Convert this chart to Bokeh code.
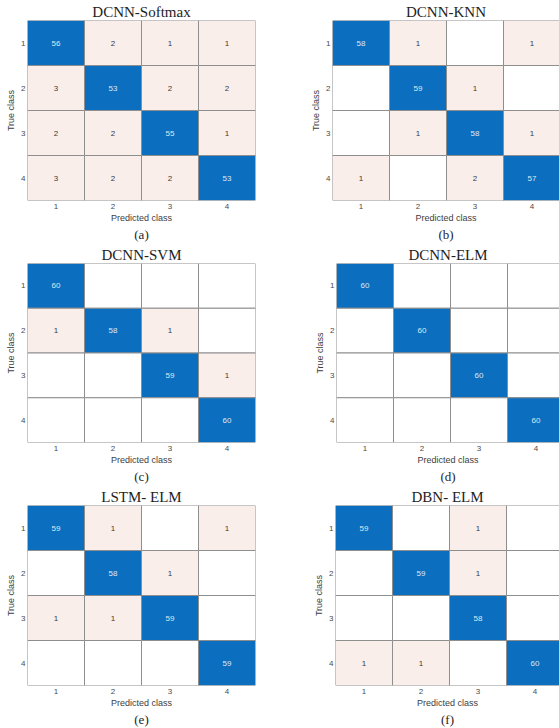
from bokeh.plotting import figure
from bokeh.layouts import column, row
from bokeh.models import ColumnDataSource, Range1d, FixedTicker, Title
from bokeh.core.properties import value
from bokeh.embed import file_html
from bokeh.resources import INLINE

# Class labels shared by every confusion matrix
classes = [1, 2, 3, 4]

titles = ["DCNN-Softmax", "DCNN-KNN", "DCNN-SVM", "DCNN-ELM", "LSTM- ELM", "DBN- ELM"]
captions = ["(a)", "(b)", "(c)", "(d)", "(e)", "(f)"]

# Confusion matrices: rows = true class, columns = predicted class
cm_softmax = [[56, 2, 1, 1], [3, 53, 2, 2], [2, 2, 55, 1], [3, 2, 2, 53]]
cm_knn = [[58, 1, 0, 1], [0, 59, 1, 0], [0, 1, 58, 1], [1, 0, 2, 57]]
cm_svm = [[60, 0, 0, 0], [1, 58, 1, 0], [0, 0, 59, 1], [0, 0, 0, 60]]
cm_elm = [[60, 0, 0, 0], [0, 60, 0, 0], [0, 0, 60, 0], [0, 0, 0, 60]]
cm_lstm = [[59, 1, 0, 1], [0, 58, 1, 0], [1, 1, 59, 0], [0, 0, 0, 59]]
cm_dbn = [[59, 0, 1, 0], [0, 59, 1, 0], [0, 0, 58, 0], [1, 1, 0, 60]]

DIAG = "#0b6ebe"
OFF = "#f9eeea"
EDGE = "#8e8e8e"
SANS = "Liberation Sans"
SERIF = "Liberation Serif"
CELL_PX = 57.0


def confusion_panel(title, caption, cm, left, frame_w, right, top, frame_h, bottom):
    xs, ys, fills, labels, tcolors = [], [], [], [], []
    for i, t in enumerate(classes):
        for j, pcls in enumerate(classes):
            v = cm[i][j]
            xs.append(pcls)
            ys.append(t)
            if i == j:
                fills.append(DIAG)
                tcolors.append("#dfe9f5")
            elif v > 0:
                fills.append(OFF)
                tcolors.append("#3a3a3a")
            else:
                fills.append("#ffffff")
                tcolors.append("#3a3a3a")
            labels.append(str(v) if v > 0 else "")
    src = ColumnDataSource(dict(x=xs, y=ys, fill=fills, label=labels, tc=tcolors))

    x_end = 0.5 + frame_w / CELL_PX
    p = figure(
        x_range=Range1d(0.5, x_end), y_range=Range1d(4.5, 0.5),
        frame_width=frame_w, frame_height=frame_h,
        min_border_left=left, min_border_right=right,
        min_border_top=top, min_border_bottom=bottom,
        output_backend="svg", toolbar_location=None,
        background_fill_color="white", border_fill_color="white",
    )
    p.outline_line_color = None
    p.xgrid.visible = False
    p.ygrid.visible = False

    p.rect(x="x", y="y", width=1, height=1, source=src,
           fill_color="fill", line_color=EDGE, line_width=1)
    p.text(x="x", y="y", text="label", source=src, text_color="tc",
           text_align="center", text_baseline="middle",
           text_font=value(SANS), text_font_size="8px")

    for ax in (p.xaxis[0], p.yaxis[0]):
        ax.ticker = FixedTicker(ticks=classes)
        ax.axis_line_color = None
        ax.major_tick_in = 0
        ax.major_tick_out = 0
        ax.minor_tick_line_color = None
        ax.major_label_text_font = SANS
        ax.major_label_text_font_size = "8px"
        ax.major_label_text_color = "#4a4a4a"
        ax.axis_label_text_font = SANS
        ax.axis_label_text_font_size = "9px"
        ax.axis_label_text_font_style = "normal"
        ax.axis_label_text_color = "#404040"
    p.xaxis.major_label_standoff = 3
    p.xaxis.axis_label_standoff = 1
    p.yaxis.major_label_standoff = 2
    p.yaxis.axis_label_standoff = 2
    p.xaxis.axis_label = "Predicted class"
    p.yaxis.axis_label = "True class"
    p.yaxis.major_label_orientation = "horizontal"

    p.title.text = title
    p.title.text_font = SERIF
    p.title.text_font_size = "15px"
    p.title.text_font_style = "normal"
    p.title.text_color = "#1e1e1e"
    p.title.align = "center"
    p.title.standoff = 1

    cap = Title(text=caption, align="center", text_font=SERIF,
                text_font_size="13px", text_font_style="normal",
                text_color="#1e1e1e", standoff=-2)
    p.add_layout(cap, "below")
    return p


pa = confusion_panel(titles[0], captions[0], cm_softmax, 27, 228, 25, 20, 180, 43)
pb = confusion_panel(titles[1], captions[1], cm_knn, 52, 227, 0, 20, 180, 43)
pc = confusion_panel(titles[2], captions[2], cm_svm, 27, 228, 25, 20, 179, 43)
pd = confusion_panel(titles[3], captions[3], cm_elm, 56, 223, 0, 20, 179, 43)
pe = confusion_panel(titles[4], captions[4], cm_lstm, 27, 228, 25, 20, 180, 43)
pf = confusion_panel(titles[5], captions[5], cm_dbn, 55, 224, 0, 20, 180, 43)

layout = column(row(pa, pb), row(pc, pd), row(pe, pf))
open("out.html", "w").write(file_html(layout, INLINE))
